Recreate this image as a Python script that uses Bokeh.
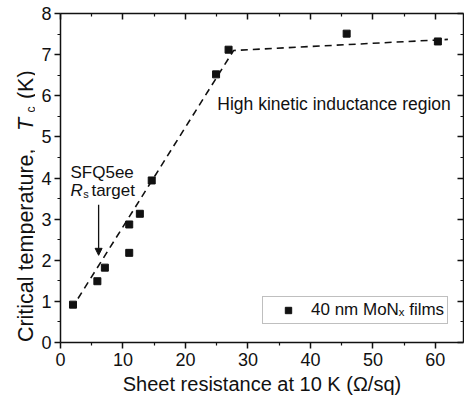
from math import pi
from bokeh.plotting import figure
from bokeh.layouts import row
from bokeh.models import (LinearAxis, Range1d, Label, Arrow, NormalHead, Legend,
                          LegendItem, FixedTicker)
from bokeh.embed import file_html
from bokeh.resources import INLINE

# ---- data ----
sheet_resistance = [2.0, 5.9, 7.1, 11.0, 11.0, 12.7, 14.6, 24.9, 26.9, 45.8, 60.4]
critical_temp = [0.92, 1.49, 1.82, 2.87, 2.18, 3.13, 3.94, 6.52, 7.12, 7.51, 7.32]
fit_x = [2.8, 27.7, 62.0]
fit_y = [1.07, 7.10, 7.37]
x_ticks = [0, 10, 20, 30, 40, 50, 60]
y_ticks = [0, 1, 2, 3, 4, 5, 6, 7, 8]
target_rs = 6.1
arrow_tc = [3.35, 2.12]

FONT = "Liberation Sans"
INK = "#111111"

x_minor = [(a + b) / 2 for a, b in zip(x_ticks[:-1], x_ticks[1:])] + [x_ticks[-1] + 5]
y_minor = [(a + b) / 2 for a, b in zip(y_ticks[:-1], y_ticks[1:])]

W, H = 464, 406
LABEL_W = 35
TOP, BOTTOM = 13, 64

p = figure(width=W - LABEL_W, height=H, x_range=Range1d(0, 64.5),
           y_range=Range1d(y_ticks[0], y_ticks[-1]),
           output_backend="svg", toolbar_location=None,
           min_border_left=60 - LABEL_W, min_border_right=1, min_border_top=TOP,
           min_border_bottom=BOTTOM)
p.xgrid.visible = False
p.ygrid.visible = False
p.outline_line_color = None
p.background_fill_color = "white"
p.border_fill_color = "white"


def style_axis(ax, major, minor, inward):
    ax.ticker = FixedTicker(ticks=major, minor_ticks=minor)
    ax.axis_line_width = 1.5
    ax.axis_line_color = INK
    ax.major_tick_line_color = INK
    ax.minor_tick_line_color = INK
    ax.major_tick_line_width = 1.5
    ax.minor_tick_line_width = 1.2
    if inward:
        ax.major_tick_in, ax.major_tick_out = 6, 0
        ax.minor_tick_in, ax.minor_tick_out = 3, 0
    else:
        ax.major_tick_in, ax.major_tick_out = 0, 6
        ax.minor_tick_in, ax.minor_tick_out = 0, 3
    ax.major_label_text_font = FONT
    ax.major_label_text_font_size = "18px"
    ax.major_label_text_color = INK


bottom = p.xaxis[0]
style_axis(bottom, x_ticks, x_minor, False)
bottom.major_label_standoff = 4
bottom.axis_label = "Sheet resistance at 10 K (Ω/sq)"
bottom.axis_label_text_font = FONT
bottom.axis_label_text_font_size = "20px"
bottom.axis_label_text_font_style = "normal"
bottom.axis_label_text_color = INK
bottom.axis_label_standoff = 4

left = p.yaxis[0]
style_axis(left, y_ticks, y_minor, False)
left.major_label_standoff = 3

for place, major, minor in (("above", x_ticks, x_minor), ("right", y_ticks, y_minor)):
    ax = LinearAxis()
    style_axis(ax, major, minor, True)
    ax.major_label_overrides = {t: "" for t in major}
    ax.major_label_text_font_size = "1px"
    ax.major_label_standoff = 0
    p.add_layout(ax, place)

# fit line and points
p.line(fit_x, fit_y, line_dash="7 5", line_width=1.6, line_color=INK)
pts = p.scatter(sheet_resistance, critical_temp, marker="square", size=7,
                fill_color=INK, line_color=INK)

# arrow for target
p.add_layout(Arrow(end=NormalHead(size=7, fill_color=INK, line_color=INK),
                   x_start=target_rs, y_start=arrow_tc[0],
                   x_end=target_rs, y_end=arrow_tc[1],
                   line_width=1.3, line_color=INK))


def lab(fig, text, x, y, size, style="normal", angle=0):
    fig.add_layout(Label(x=x, y=y, text=text, text_font=FONT, text_font_size=size,
                         text_font_style=style, text_color=INK, angle=angle,
                         text_align="left", text_baseline="alphabetic"))


lab(p, "SFQ5ee", 1.6, 4.14, "17px")
lab(p, "R", 1.6, 3.70, "17px", "italic")
lab(p, "s", 3.65, 3.60, "11px")
lab(p, "target", 4.95, 3.70, "17px")
lab(p, "High kinetic inductance region", 25.1, 5.79, "17.5px")

legend = Legend(items=[LegendItem(label="40 nm MoNₓ films", renderers=[pts])],
                location=(202, 18), padding=3, glyph_width=44, glyph_height=16,
                label_standoff=1, label_text_font=FONT, label_text_font_size="17px",
                label_text_color=INK, label_height=20, border_line_color="#808080",
                border_line_width=1, margin=0, spacing=0, background_fill_alpha=1)
p.add_layout(legend)

# narrow strip holding the rotated y-axis title (shares the y range and borders)
t = figure(width=LABEL_W, height=H, x_range=Range1d(0, LABEL_W), y_range=p.y_range,
           output_backend="svg", toolbar_location=None, x_axis_location=None,
           y_axis_location=None, min_border_left=0, min_border_right=0,
           min_border_top=TOP, min_border_bottom=BOTTOM)
t.xgrid.visible = False
t.ygrid.visible = False
t.outline_line_color = None
t.background_fill_color = "white"
t.border_fill_color = "white"

lab(t, "Critical temperature,", 25.5, 0.01, "21.5px", angle=pi / 2)
lab(t, "T", 25.5, 5.14, "21.5px", "italic", angle=pi / 2)
lab(t, "c", 30.5, 5.59, "12px", angle=pi / 2)
lab(t, "(K)", 25.5, 5.92, "21.5px", angle=pi / 2)

layout = row(t, p, spacing=0)
open("out.html", "w").write(file_html(layout, INLINE))
